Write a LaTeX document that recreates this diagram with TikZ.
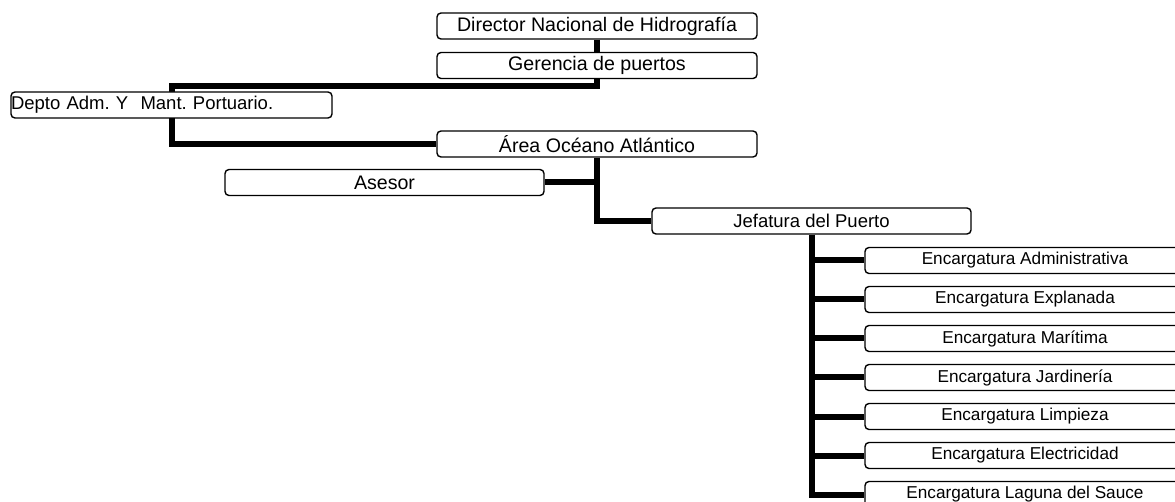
\documentclass[tikz,border=0pt]{standalone}
\usepackage{fontspec}
\setmainfont{Liberation Sans}
\usetikzlibrary{backgrounds}
\begin{document}
\frenchspacing
\begin{tikzpicture}[x=1pt,y=-1pt,
  box/.style={draw=black, line width=1.4pt, rounded corners=4pt, fill=white,
    minimum height=26pt, inner sep=0pt},
  big/.style={box, minimum width=320pt, font=\fontsize{19.6}{22}\selectfont},
  mid/.style={box, minimum width=319pt, font=\fontsize{18.5}{21}\selectfont},
  enc/.style={box, minimum width=320pt, font=\fontsize{17.2}{20}\selectfont},
  link/.style={line width=6pt, line join=miter}]
\clip (0,0) rectangle (1175,502);

\node[big] (dir) at (597,26) {Director Nacional de Hidrografía};
\node[big] (ger) at (597,65.5) {Gerencia de puertos};
\node[box, text width=321pt, align=left, font=\fontsize{18.5}{21}\selectfont] (depto) at (171.5,105) {Depto Adm. Y\ \ Mant. Portuario.};
\node[big] (area) at (597,144) {Área Océano Atlántico};
\node[big, minimum width=319pt] (ases) at (384.5,182.5) {Asesor};
\node[mid] (jef) at (811.5,221) {Jefatura del Puerto};
\node[enc] (e1) at (1025,260.5) {Encargatura Administrativa};
\node[enc] (e2) at (1025,299.5) {Encargatura Explanada};
\node[enc] (e3) at (1025,338.5) {Encargatura Marítima};
\node[enc] (e4) at (1025,377.5) {Encargatura Jardinería};
\node[enc] (e5) at (1025,416.5) {Encargatura Limpieza};
\node[enc] (e6) at (1025,455.5) {Encargatura Electricidad};
\node[enc] (e7) at (1025,494.5) {Encargatura Laguna del Sauce};
\coordinate (jdep) at (172,86);

\begin{scope}[on background layer]
  \draw[link] (dir.south) |- (jdep) |- (area.west);
  \draw[link] (area.south) |- (jef.west);
  \draw[link] (ases.east) -- (ases.east -| area.south);
  \draw[link] (jef.south) |- (e7.west);
  \foreach \k in {1,...,6}{
    \draw[link] (jef.south |- e\k.west) -- (e\k.west);
  }
\end{scope}
\end{tikzpicture}
\end{document}
